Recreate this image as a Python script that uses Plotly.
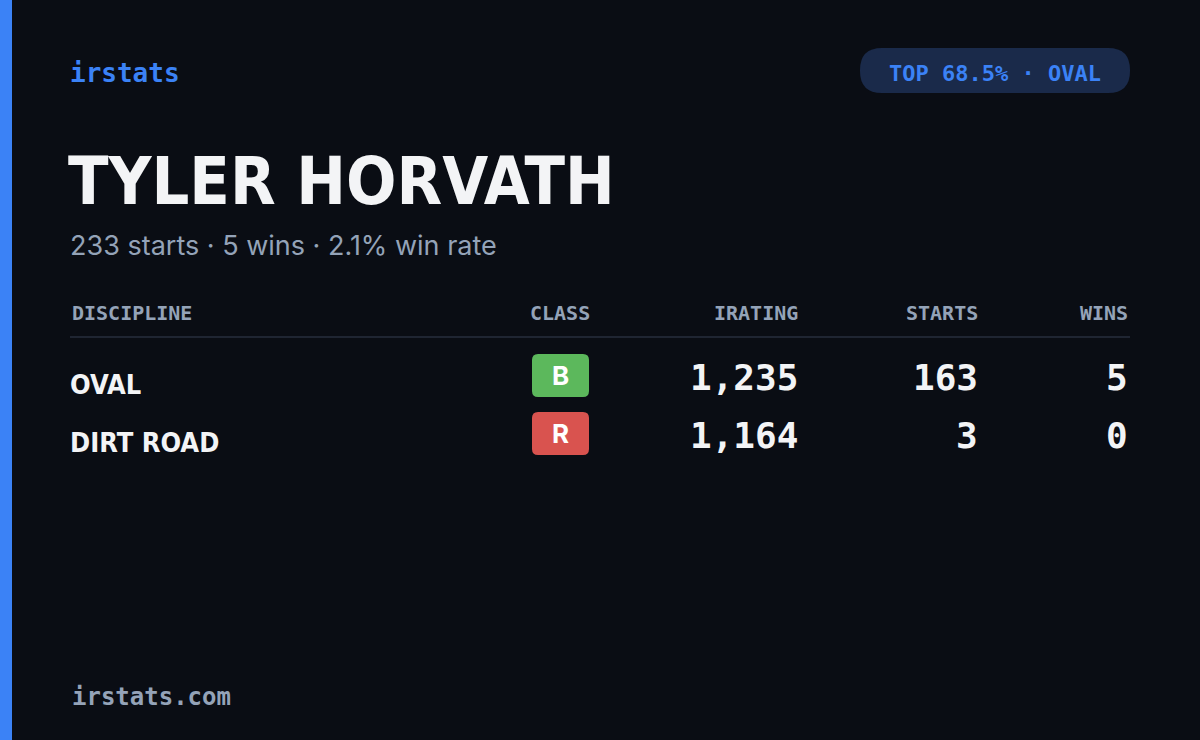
import plotly.graph_objects as go

# Card data
driver_name = "TYLER HORVATH"
total_starts = 233
total_wins = 5
win_rate = 2.1
top_pct = 68.5
top_discipline = "OVAL"

disciplines = ["OVAL", "DIRT ROAD"]
classes = ["B", "R"]
iratings = [1235, 1164]
starts = [163, 3]
wins = [5, 0]

class_colors = {"B": "#5cb85c", "R": "#d9534f"}

BG = "#0a0d14"
BLUE = "#3b82f6"
GRAY = "#94a3b8"
WHITE = "#f3f4f6"
PILL = "#1a2a4a"
MONO = "DejaVu Sans Mono"
COND = "DejaVu Sans Condensed, sans-serif"

fig = go.Figure()
shapes = []
ann = []

def text(x, y, s, size, color, family, xanchor="left", weight="normal"):
    ann.append(dict(x=x, y=y, text=s, showarrow=False, xanchor=xanchor, yanchor="middle",
                    font=dict(size=size, color=color, family=family, weight=weight)))

def rounded(x0, x1, y0, y1, r, color):
    p = (f"M{x0+r},{y0} L{x1-r},{y0} Q{x1},{y0} {x1},{y0+r} L{x1},{y1-r} Q{x1},{y1} {x1-r},{y1} "
         f"L{x0+r},{y1} Q{x0},{y1} {x0},{y1-r} L{x0},{y0+r} Q{x0},{y0} {x0+r},{y0} Z")
    shapes.append(dict(type="path", path=p, fillcolor=color, line_width=0, layer="below"))

# left accent bar
shapes.append(dict(type="rect", x0=0, x1=12, y0=0, y1=740, fillcolor=BLUE, line_width=0))

text(68, 73, "irstats", 26, BLUE, MONO, weight=600)

# pill
rounded(860, 1130, 48, 93, 22, PILL)
text(995, 73, f"<b>TOP {top_pct}% · {top_discipline}</b>", 22, BLUE, MONO, xanchor="center")

text(66, 181, f"<b>{driver_name}</b>", 66, WHITE, COND)
text(68, 245, f"{total_starts} starts · {total_wins} wins · {win_rate}% win rate", 27, GRAY, "Inter")

# header
cols = [(70, "DISCIPLINE", "left"), (560, "CLASS", "center"), (800, "IRATING", "right"),
        (980, "STARTS", "right"), (1130, "WINS", "right")]
for x, s, a in cols:
    text(x, 313, s, 20, GRAY, MONO, xanchor=a, weight=600)
shapes.append(dict(type="line", x0=70, x1=1130, y0=337, y1=337, line=dict(color="#1f2532", width=2)))

for i, d in enumerate(disciplines):
    yc = 377 + i * 58
    text(68, yc + 7, f"<b>{d}</b>", 27, WHITE, COND)
    rounded(532, 589, yc - 23, yc + 20, 6, class_colors[classes[i]])
    text(560, yc - 2, f"<b>{classes[i]}</b>", 26, "white", "Inter", xanchor="center")
    text(800, yc, f"<b>{iratings[i]:,}</b>", 36, WHITE, MONO, xanchor="right")
    text(980, yc, f"<b>{starts[i]}</b>", 36, WHITE, MONO, xanchor="right")
    text(1130, yc, f"<b>{wins[i]}</b>", 36, WHITE, MONO, xanchor="right")

text(70, 697, "irstats.com", 24, GRAY, MONO, weight=600)

fig.update_layout(
    width=1200, height=740, margin=dict(l=0, r=0, t=0, b=0),
    paper_bgcolor=BG, plot_bgcolor=BG, showlegend=False,
    xaxis=dict(range=[0, 1200], visible=False, fixedrange=True),
    yaxis=dict(range=[740, 0], visible=False, fixedrange=True),
    shapes=shapes, annotations=ann,
)
fig.write_html("out.html", config={"displayModeBar": False},
               post_script="document.body.style.margin='0';document.body.style.background='#0a0d14';")
